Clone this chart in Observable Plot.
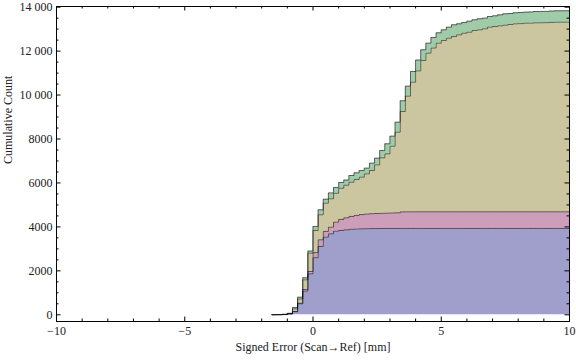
<!DOCTYPE html>
<html><head><meta charset="utf-8">
<script src="https://cdn.jsdelivr.net/npm/d3@7"></script>
<script src="https://cdn.jsdelivr.net/npm/@observablehq/plot@0.6"></script>
<style>body{margin:0;background:#fff} svg{display:block}</style>
</head><body><div id="chart"></div>
<script>
// Bin left edges (mm), bin width 0.2
const binStart = [-1.6,-1.4,-1.2,-1.0,-0.8,-0.6,-0.4,-0.2,0,0.2,0.4,0.6,0.8,1.0,1.2,1.4,1.6,1.8,2.0,2.2,2.4,2.6,2.8,3.0,3.2,3.4,3.6,3.8,4.0,4.2,4.4,4.6,4.8,5.0,5.2,5.4,5.6,5.8,6.0,6.2,6.4,6.6,6.8,7.0,7.2,7.4,7.6,7.8,8.0,8.2,8.4,8.6,8.8,9.0,9.2,9.4,9.6,9.8];
const binEnd = 10;
// Stacked cumulative counts (top of each layer)
const blueTop  = [3,5,10,35,140,500,1080,1866,2600,3110,3535,3686,3808,3838,3868,3895,3905,3912,3918,3922,3925,3927,3930,3930,3930,3930,3930,3930,3930,3930,3930,3930,3930,3930,3930,3930,3930,3930,3930,3930,3930,3930,3930,3930,3930,3930,3930,3930,3930,3930,3930,3930,3930,3930,3930,3930,3930,3930];
const pinkTop  = [3,5,11,40,150,530,1150,1970,2830,3413,3793,3990,4217,4339,4414,4475,4521,4560,4585,4600,4610,4620,4627,4635,4642,4685,4686,4687,4688,4688,4688,4688,4688,4688,4688,4688,4688,4688,4688,4688,4688,4688,4688,4688,4688,4688,4688,4688,4688,4688,4688,4688,4688,4688,4688,4688,4688,4688];
const khakiTop = [4,8,18,55,270,720,1590,2805,3838,4551,5082,5280,5530,5760,5900,6036,6157,6264,6415,6566,6824,7143,7325,7674,8311,9252,9950,10587,11100,11573,11907,12140,12362,12483,12589,12665,12741,12817,12862,12938,12968,13014,13090,13120,13150,13181,13211,13241,13250,13272,13275,13287,13290,13295,13305,13317,13318,13320];
const greenTop = [5,10,22,65,330,800,1684,2898,4020,4779,5260,5545,5795,6020,6130,6339,6460,6566,6673,6900,7128,7477,7780,8129,8766,9740,10405,11073,11590,12059,12362,12620,12832,12968,13090,13196,13241,13302,13362,13423,13469,13499,13575,13605,13651,13696,13711,13742,13757,13772,13780,13802,13805,13808,13820,13832,13834,13836];

const xMajor = [-10,-5,0,5,10];
const xMinor = [-9,-8,-7,-6,-4,-3,-2,-1,1,2,3,4,6,7,8,9];
const yMajor = [0,2000,4000,6000,8000,10000,12000,14000];
const yMinor = [500,1000,1500,2500,3000,3500,4500,5000,5500,6500,7000,7500,8500,9000,9500,10500,11000,11500,12500,13000,13500];

const colors = {blue:"#a09fcc", pink:"#cc9eb9", khaki:"#cbc6a0", green:"#9fcba8"};

function rows(top, base) {
  const r = binStart.map((x, i) => ({x, y1: base ? base[i] : 0, y2: top[i]}));
  const last = r[r.length - 1];
  r.push({x: binEnd, y1: last.y1, y2: last.y2});
  return r;
}
const layers = [
  {data: rows(blueTop, null), fill: colors.blue},
  {data: rows(pinkTop, blueTop), fill: colors.pink},
  {data: rows(khakiTop, pinkTop), fill: colors.khaki},
  {data: rows(greenTop, khakiTop), fill: colors.green}
];

const W = 576, H = 361, mL = 56, mR = 7, mT = 6, mB = 40;
const pw = W - mL - mR, ph = H - mT - mB;

const yFmt = d => d >= 10000 ? `${Math.floor(d/1000)} ${String(d % 1000).padStart(3, "0")}` : String(d);

const plot = Plot.plot({
  width: W, height: H,
  marginLeft: mL, marginRight: mR, marginTop: mT, marginBottom: mB,
  style: {fontFamily: "'Liberation Serif','Times New Roman',serif", fontSize: "12px", color: "#222", background: "white"},
  x: {domain: [-10, 10], axis: null},
  y: {domain: [-305, 14030], axis: null},
  marks: [
    ...layers.map(l => Plot.areaY(l.data, {x: "x", y1: "y1", y2: "y2", fill: l.fill, curve: "step-after"})),
    ...layers.map(l => Plot.lineY(l.data, {x: "x", y: "y2", stroke: "black", strokeOpacity: 0.5, strokeWidth: 1, curve: "step-after"})),
    Plot.frame({stroke: "black", strokeWidth: 1}),
    Plot.tickX(xMajor, {x: d => d, insetTop: ph - 4.5, stroke: "black"}),
    Plot.tickX(xMinor, {x: d => d, insetTop: ph - 2.5, stroke: "black"}),
    Plot.tickX(xMajor, {x: d => d, insetBottom: ph - 4.5, stroke: "black"}),
    Plot.tickX(xMinor, {x: d => d, insetBottom: ph - 2.5, stroke: "black"}),
    Plot.tickY(yMajor, {y: d => d, insetRight: pw - 4.5, stroke: "black"}),
    Plot.tickY(yMinor, {y: d => d, insetRight: pw - 2.5, stroke: "black"}),
    Plot.tickY(yMajor, {y: d => d, insetLeft: pw - 4.5, stroke: "black"}),
    Plot.tickY(yMinor, {y: d => d, insetLeft: pw - 2.5, stroke: "black"}),
    Plot.axisX(xMajor, {anchor: "bottom", tickSize: 0, tickPadding: 5, label: null, fontSize: 12, fill: "#222"}),
    Plot.axisY(yMajor, {anchor: "left", tickSize: 0, tickPadding: 4, tickFormat: yFmt, label: null, fontSize: 12, fill: "#222"}),
    Plot.text(["Signed Error (Scan\u2192Ref) [mm]"], {text: d => d, frameAnchor: "bottom", dy: 29, fontSize: 12, fill: "#222"}),
    Plot.text(["Cumulative Count"], {text: d => d, frameAnchor: "left", dx: -48, rotate: -90, fontSize: 12, fill: "#222"})
  ]
});
document.getElementById("chart").appendChild(plot);
</script>
</body></html>
